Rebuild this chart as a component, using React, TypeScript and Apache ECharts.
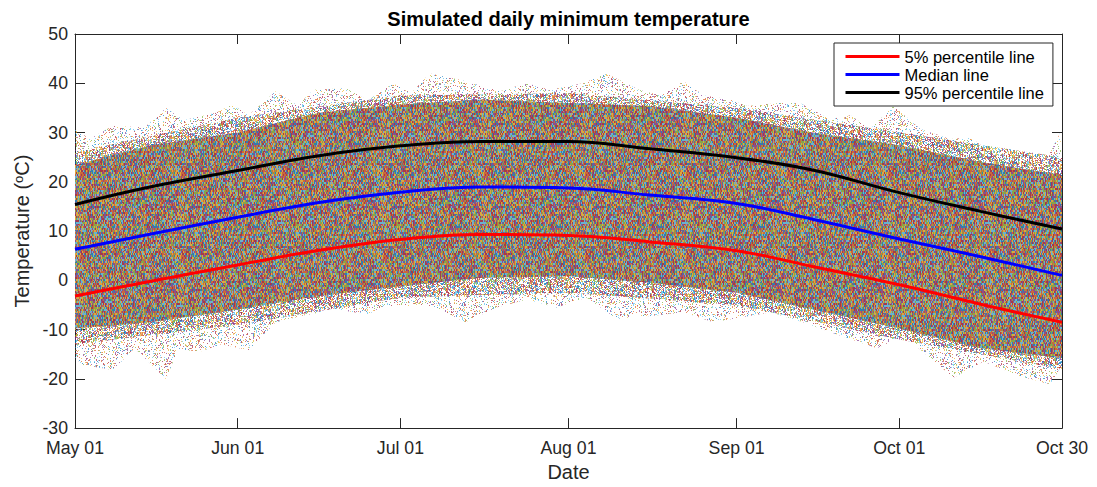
import React, { useEffect, useRef } from "react";
import * as echarts from "echarts";

// ---- data ----
const tickDays = [0, 30, 60, 91, 122, 152, 182];
const tickLabels = ["May 01", "Jun 01", "Jul 01", "Aug 01", "Sep 01", "Oct 01", "Oct 30"];

const lineDays = [0, 14, 30, 45, 60, 75, 91, 106, 122, 136, 152, 167, 182];
const p95 = [15.4, 19.0, 22.3, 25.3, 27.3, 28.2, 28.2, 26.7, 24.9, 22.4, 17.8, 14.0, 10.4];
const median = [6.3, 9.4, 12.8, 15.8, 17.9, 18.95, 18.75, 17.3, 15.6, 12.4, 8.4, 4.8, 1.0];
const p5 = [-3.2, -0.2, 3.1, 6.1, 8.3, 9.3, 9.1, 7.8, 6.0, 2.8, -0.9, -4.85, -8.5];

// dense core of simulated traces
const coreDays = [0, 14, 30, 45, 60, 75, 91, 106, 122, 136, 152, 167, 182];
const coreUpper = [23.4, 27.4, 30, 34, 35.7, 36.7, 36, 35.4, 33, 30, 27.4, 24, 21.4];
const coreLower = [-9.8, -8.5, -5.9, -3.2, -1.2, 0.5, 0.8, -0.5, -2.5, -5.9, -9.8, -13.8, -15.8];

// semi-dense transition zone
const midDays = [0, 30, 60, 91, 122, 152, 182];
const midUpper = [26, 33, 37.5, 38, 35, 30, 25];
const midLower = [-13, -9, -3.5, -2.5, -5, -12, -18];

// sparse outer spikes of simulated traces
const outerUpperDays = [0, 2.7, 7, 12.8, 16.8, 20, 26, 29, 32, 37, 41, 44, 50, 54, 58.6, 62, 65.4, 71, 78.4, 83.3, 87.6, 93.7, 98, 104, 108, 112.2, 116, 120.8, 123.9, 130, 133.7, 139.2, 143, 146.6, 150.9, 155.9, 161.4, 165, 170, 175, 178.6, 181.7, 182];
const outerUpperVals = [30.7, 28.7, 31.4, 31, 35, 32.5, 34, 35.7, 33.5, 38.4, 35.5, 38.7, 39, 36.5, 40, 38, 42, 40.7, 38.4, 40, 38.7, 40, 42, 38.7, 37.5, 40.4, 37.5, 36.7, 35.4, 36, 36, 32.7, 33.5, 30.7, 35.4, 30.7, 28.7, 29, 25.4, 26, 23.4, 30, 22];
const outerLowerDays = [0, 1.5, 7, 11, 16.8, 19, 23, 27, 32, 37, 42, 48, 54, 57, 66, 72, 77.7, 83.3, 88.8, 94.3, 99.9, 106.6, 112.2, 117.7, 121.4, 128.2, 134.3, 139.2, 147.9, 152.8, 157.1, 162, 167.5, 174.3, 179.8, 182];
const outerLowerVals = [-15.8, -17.2, -18.2, -13.8, -20.1, -14, -14.5, -13, -14.2, -8.5, -7.2, -5.9, -6.9, -5.2, -5.2, -8.5, -5.5, -3.9, -5.5, -3.5, -7.8, -7.2, -6.5, -8.5, -7.8, -6.5, -8.5, -10.5, -13.8, -11.2, -15.2, -19.8, -16.5, -19.5, -21.1, -17.2];

const PALETTE = ["#0072BD", "#D95319", "#EDB120", "#7E2F8E", "#77AC30", "#4DBEEE", "#A2142F"];
const FONT = "'Liberation Sans', Arial, Helvetica, sans-serif";
const AXIS_COLOR = "#262626";

function hash(x: number, y: number, s: number) {
  let n = Math.imul(x, 374761393) ^ Math.imul(y, 668265263) ^ Math.imul(s, 2246822519);
  n = Math.imul(n ^ (n >>> 13), 1274126177);
  n = n ^ (n >>> 16);
  return (n >>> 0) / 4294967296;
}

// texture: optional base tint + coloured dots (visual style of overlapping dotted traces)
function makeTexture(w: number, h: number, density: number, seed: number, alpha: number, base: number[] | null, run: number) {
  const c = document.createElement("canvas");
  c.width = w;
  c.height = h;
  const ctx = c.getContext("2d")!;
  const img = ctx.createImageData(w, h);
  const rgb = PALETTE.map((p) => [parseInt(p.slice(1, 3), 16), parseInt(p.slice(3, 5), 16), parseInt(p.slice(5, 7), 16)]);
  for (let y = 0; y < h; y++) {
    for (let x = 0; x < w; x++) {
      const i = (y * w + x) * 4;
      let r = 255, g = 255, b = 255, a = 0;
      if (base) {
        r = base[0]; g = base[1]; b = base[2]; a = 1;
      }
      if (hash(x, y, seed) < density) {
        const col = rgb[Math.floor(hash(x, Math.floor(y / run), seed + 11) * rgb.length) % rgb.length];
        if (base) {
          r = r * (1 - alpha) + col[0] * alpha;
          g = g * (1 - alpha) + col[1] * alpha;
          b = b * (1 - alpha) + col[2] * alpha;
        } else {
          r = col[0]; g = col[1]; b = col[2]; a = alpha;
        }
      }
      img.data[i] = Math.round(r);
      img.data[i + 1] = Math.round(g);
      img.data[i + 2] = Math.round(b);
      img.data[i + 3] = Math.round(a * 255);
    }
  }
  ctx.putImageData(img, 0, 0);
  return { image: c.toDataURL(), repeat: "repeat", imageWidth: w, imageHeight: h };
}

const pair = (xs: number[], ys: number[]) => xs.map((x, i) => [x, ys[i]]);

export default function App() {
  const ref = useRef<HTMLDivElement>(null);
  useEffect(() => {
    if (!ref.current) return;
    const chart = echarts.init(ref.current, null, { renderer: "svg" });
    const outerFill = makeTexture(97, 89, 0.22, 3, 0.65, null, 3);
    const midFill = makeTexture(103, 79, 0.55, 7, 0.72, null, 3);
    const coreFill = makeTexture(101, 83, 0.97, 5, 0.7, [170, 150, 135], 2);

    const bandSeries = (upD: number[], upV: number[], loD: number[], loV: number[], fill: any) => ({
      type: "custom",
      silent: true,
      clip: true,
      data: [[0, 0]],
      z: 1,
      renderItem: (_p: any, api: any) => {
        const pts: number[][] = [];
        for (let i = 0; i < upD.length; i++) pts.push(api.coord([upD[i], upV[i]]));
        for (let i = loD.length - 1; i >= 0; i--) pts.push(api.coord([loD[i], loV[i]]));
        return { type: "polygon", shape: { points: pts }, style: { fill } };
      },
    });

    const lineSeries = (name: string, color: string, ys: number[]) => ({
      name,
      type: "line",
      data: pair(lineDays, ys),
      smooth: 0.4,
      showSymbol: false,
      z: 5,
      color,
      lineStyle: { color, width: 3 },
      itemStyle: { color },
    });

    const labelFmt = (v: number) => {
      const i = tickDays.indexOf(v);
      return i >= 0 ? tickLabels[i] : "";
    };

    const axisLine = { show: true, onZero: false, lineStyle: { color: AXIS_COLOR, width: 1 } };

    chart.setOption({
      animation: false,
      backgroundColor: "#fff",
      textStyle: { fontFamily: FONT },
      grid: { left: 75, right: 35, top: 34, bottom: 52 },
      graphic: [
        {
          type: "text",
          x: 568.5,
          y: 19,
          style: {
            text: "Simulated daily minimum temperature",
            font: `bold 20px ${FONT}`,
            textAlign: "center",
            textVerticalAlign: "middle",
            fill: "#000",
          },
        },
      ],
      legend: {
        data: ["5% percentile line", "Median line", "95% percentile line"],
        orient: "vertical",
        left: 834,
        top: 43,
        icon: "rect",
        itemWidth: 54,
        itemHeight: 3,
        itemGap: 0,
        padding: [4.5, 9, 4.5, 11.5],
        backgroundColor: "#fff",
        borderColor: AXIS_COLOR,
        borderWidth: 1,
        textStyle: { fontSize: 16.5, lineHeight: 18, color: "#000", fontFamily: FONT },
      },
      xAxis: [
        {
          type: "value",
          min: 0,
          max: 182,
          name: "Date",
          nameLocation: "middle",
          nameGap: 29,
          nameTextStyle: { fontSize: 20, color: AXIS_COLOR, fontFamily: FONT },
          axisLine,
          axisTick: { show: true, inside: true, length: 10, customValues: tickDays, lineStyle: { color: AXIS_COLOR } },
          axisLabel: { customValues: tickDays, formatter: labelFmt, fontSize: 17.7, color: AXIS_COLOR, margin: 11, fontFamily: FONT },
          splitLine: { show: false },
        },
        {
          type: "value",
          position: "top",
          min: 0,
          max: 182,
          axisLine,
          axisTick: { show: true, inside: true, length: 10, customValues: tickDays, lineStyle: { color: AXIS_COLOR } },
          axisLabel: { show: false },
          splitLine: { show: false },
        },
      ],
      yAxis: [
        {
          type: "value",
          min: -30,
          max: 50,
          interval: 10,
          name: "Temperature ({sup|o}C)",
          nameLocation: "middle",
          nameGap: 38,
          nameRotate: 90,
          nameTextStyle: {
            fontSize: 20,
            color: AXIS_COLOR,
            fontFamily: FONT,
            rich: { sup: { fontSize: 13, verticalAlign: "top", color: AXIS_COLOR, fontFamily: FONT } },
          },
          axisLine,
          axisTick: { show: true, inside: true, length: 10, lineStyle: { color: AXIS_COLOR } },
          axisLabel: { fontSize: 17.7, color: AXIS_COLOR, margin: 7, fontFamily: FONT },
          splitLine: { show: false },
        },
        {
          type: "value",
          position: "right",
          min: -30,
          max: 50,
          interval: 10,
          axisLine,
          axisTick: { show: true, inside: true, length: 10, lineStyle: { color: AXIS_COLOR } },
          axisLabel: { show: false },
          splitLine: { show: false },
        },
      ],
      series: [
        bandSeries(outerUpperDays, outerUpperVals, outerLowerDays, outerLowerVals, outerFill),
        bandSeries(midDays, midUpper, midDays, midLower, midFill),
        bandSeries(coreDays, coreUpper, coreDays, coreLower, coreFill),
        lineSeries("5% percentile line", "#ff0000", p5),
        lineSeries("Median line", "#0000ff", median),
        lineSeries("95% percentile line", "#000000", p95),
      ],
    });
    return () => chart.dispose();
  }, []);
  return <div ref={ref} style={{ position: "fixed", left: 0, top: 0, width: 1097, height: 487 }} />;
}
